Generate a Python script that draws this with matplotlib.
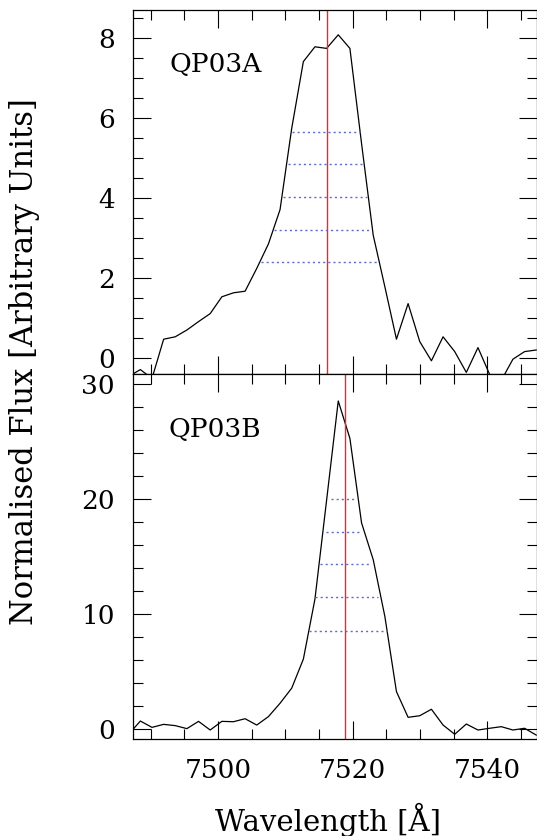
#!/usr/bin/env python3
"""Two stacked emission-line profiles (QP03A, QP03B) with line centre and width levels."""
import matplotlib
matplotlib.use("Agg")
import matplotlib.pyplot as plt
from matplotlib.ticker import MultipleLocator

# -----------------------------
# Data
# -----------------------------

wave = [7486.76, 7488.49, 7490.22, 7491.95, 7493.67, 7495.40, 7497.13, 7498.86,
        7500.59, 7502.32, 7504.04, 7505.77, 7507.50, 7509.23, 7510.96, 7512.69,
        7514.41, 7516.14, 7517.87, 7519.60, 7521.33, 7523.06, 7524.79, 7526.51,
        7528.24, 7529.97, 7531.70, 7533.43, 7535.16, 7536.88, 7538.61, 7540.34,
        7542.07, 7543.80, 7545.53, 7547.26]

flux_a = [-0.45, -0.28, -0.50, 0.48, 0.54, 0.71, 0.92, 1.12,
          1.54, 1.64, 1.68, 2.25, 2.86, 3.72, 5.75, 7.42,
          7.79, 7.75, 8.09, 7.75, 5.37, 3.08, 1.79, 0.48,
          1.37, 0.42, -0.06, 0.54, 0.17, -0.35, 0.27, -0.40,
          -0.55, -0.02, 0.17, 0.21]

flux_b = [-0.43, 0.72, 0.17, 0.43, 0.32, 0.06, 0.69, -0.06,
          0.69, 0.66, 0.92, 0.37, 1.10, 2.26, 3.57, 6.09,
          11.3, 19.88, 28.49, 25.24, 17.91, 14.72, 9.79, 3.27,
          1.04, 1.18, 1.74, 0.37, -0.43, 0.46, -0.06, 0.09,
          0.23, -0.06, 0.09, -0.50]

centre_a = 7516.15
centre_b = 7518.81

# width levels: flux, left and right wavelength
lev_a = [5.67, 4.85, 4.03, 3.22, 2.42]
lev_a_lo = [7510.96, 7510.46, 7509.72, 7508.34, 7506.41]
lev_a_hi = [7521.08, 7521.57, 7522.07, 7522.67, 7523.56]

lev_b = [20.0, 17.13, 14.31, 11.44, 8.57]
lev_b_lo = [7516.79, 7516.04, 7515.16, 7514.41, 7513.53]
lev_b_hi = [7520.19, 7521.42, 7522.56, 7523.79, 7525.04]

names = ["QP03A", "QP03B"]

# -----------------------------
# Plot
# -----------------------------

W, H = 537, 836
FONT = "DejaVu Serif"
plt.rcParams["font.family"] = [FONT]

fig = plt.figure(figsize=(W / 100, H / 100), dpi=100)
left = 133 / W
width = (536.5 - 133) / W
ax1 = fig.add_axes([left, 1 - 374 / H, width, (374 - 10) / H])
ax2 = fig.add_axes([left, 1 - 739 / H, width, (739 - 374) / H])

panels = [
    (ax1, flux_a, centre_a, lev_a, lev_a_lo, lev_a_hi, (-0.39, 8.71), 2, 0.5, (7492.8, 7.16)),
    (ax2, flux_b, centre_b, lev_b, lev_b_lo, lev_b_hi, (-0.84, 30.83), 10, 2, (7492.7, 25.4)),
]

for i, (ax, fl, cen, lev, lo, hi, ylim, maj, mnr, lpos) in enumerate(panels):
    ax.plot(wave, fl, color="black", lw=0.9)
    ax.axvline(cen, color="#ff2020", lw=1.0)
    ax.hlines(lev, lo, hi, colors="#5a6cc8", lw=1.0, linestyles=(0, (1.5, 2.2)))
    ax.text(lpos[0], lpos[1], names[i], fontsize=19, family=FONT, va="baseline", ha="left")

    ax.set_xlim(7487.4, 7547.3)
    ax.set_ylim(*ylim)
    ax.xaxis.set_major_locator(MultipleLocator(20))
    ax.xaxis.set_minor_locator(MultipleLocator(5))
    ax.yaxis.set_major_locator(MultipleLocator(maj))
    ax.yaxis.set_minor_locator(MultipleLocator(mnr))
    ax.tick_params(which="both", direction="in", top=True, right=True, width=0.8)
    ax.tick_params(which="major", length=13, labelsize=19, pad=13)
    ax.tick_params(which="minor", length=7)
    for s in ax.spines.values():
        s.set_linewidth(0.9)

ax1.tick_params(labelbottom=False)
ax2.tick_params(axis="x", pad=14)

fig.text(25 / W, 1 - 362 / H, "Normalised Flux [Arbitrary Units]", rotation=90,
         ha="center", va="center", fontsize=22)
fig.text(328 / W, 1 - 820 / H, "Wavelength [Å]", ha="center", va="center", fontsize=21)

fig.savefig("out.png", dpi=100)
